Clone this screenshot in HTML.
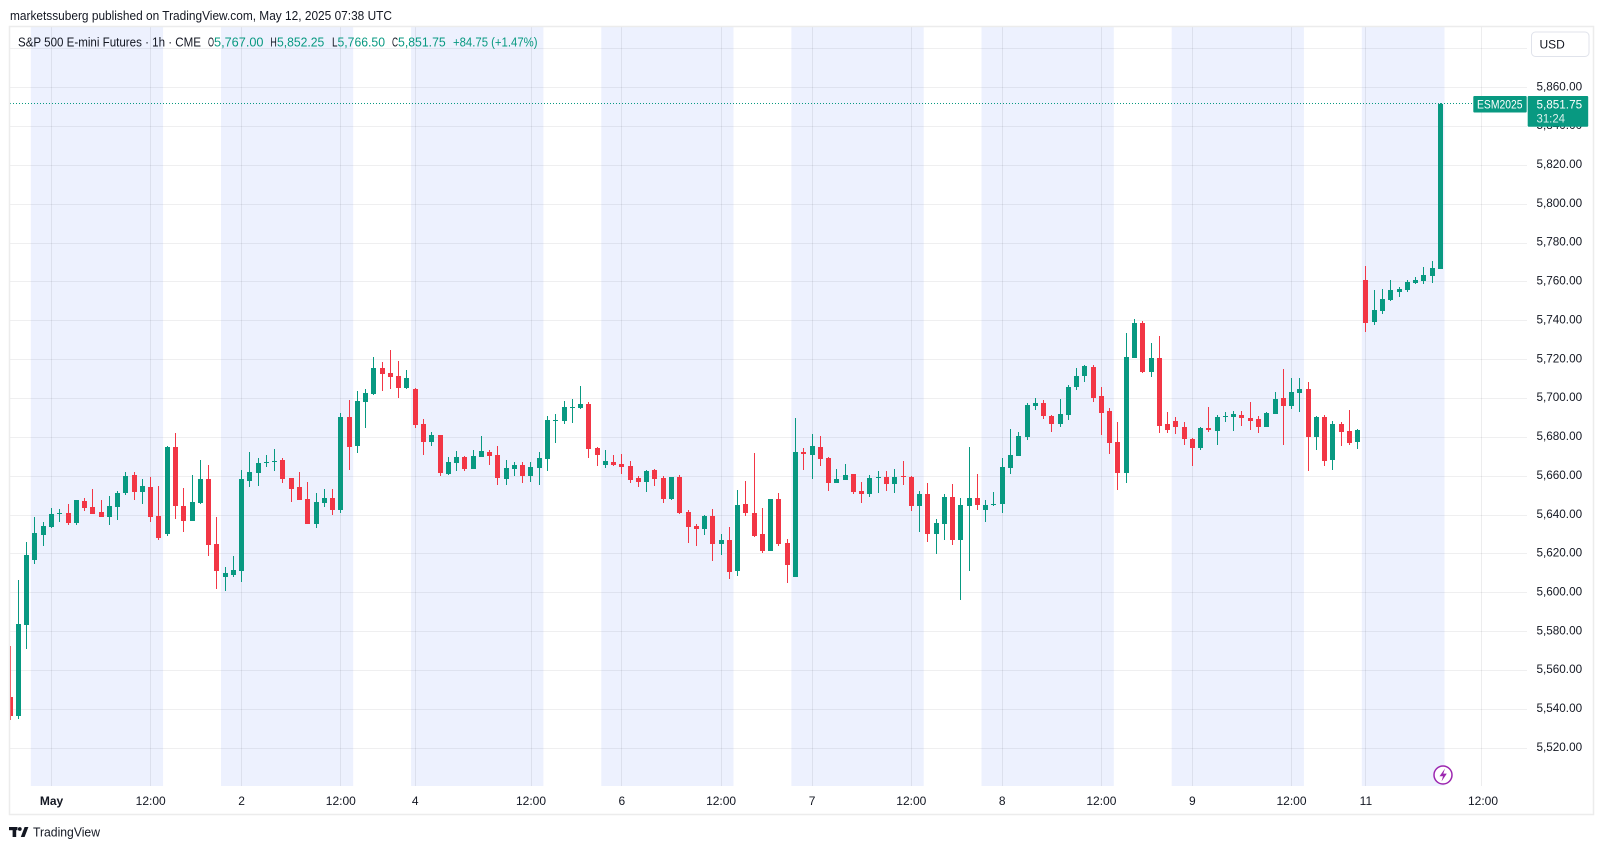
<!DOCTYPE html>
<html><head><meta charset="utf-8">
<style>
html,body{margin:0;padding:0;background:#fff;}
svg{display:block;}
text{font-family:"Liberation Sans",Arial,sans-serif;fill:#131722;}
</style></head>
<body>
<svg width="1603" height="849" viewBox="0 0 1603 849" xmlns="http://www.w3.org/2000/svg">
<rect width="1603" height="849" fill="#ffffff"/>
<defs><clipPath id="pane"><rect x="10" y="27" width="1517" height="759"/></clipPath></defs>

<!-- session bands -->
<g clip-path="url(#pane)" fill="#EDF1FE">
<rect x="30.8" y="27" width="132.3" height="759"/>
<rect x="221" y="27" width="132.2" height="759"/>
<rect x="411.1" y="27" width="132.3" height="759"/>
<rect x="601.3" y="27" width="132.2" height="759"/>
<rect x="791.4" y="27" width="132.3" height="759"/>
<rect x="981.5" y="27" width="132.3" height="759"/>
<rect x="1171.7" y="27" width="132.2" height="759"/>
<rect x="1361.8" y="27" width="82.7" height="759"/>
</g>

<!-- horizontal grid -->
<g stroke="rgba(42,46,57,0.075)" stroke-width="1">
<line x1="10" x2="1527" y1="48.5" y2="48.5"/>
<line x1="10" x2="1527" y1="87.5" y2="87.5"/>
<line x1="10" x2="1527" y1="126.5" y2="126.5"/>
<line x1="10" x2="1527" y1="165.5" y2="165.5"/>
<line x1="10" x2="1527" y1="204.5" y2="204.5"/>
<line x1="10" x2="1527" y1="243.5" y2="243.5"/>
<line x1="10" x2="1527" y1="281.5" y2="281.5"/>
<line x1="10" x2="1527" y1="320.5" y2="320.5"/>
<line x1="10" x2="1527" y1="359.5" y2="359.5"/>
<line x1="10" x2="1527" y1="398.5" y2="398.5"/>
<line x1="10" x2="1527" y1="437.5" y2="437.5"/>
<line x1="10" x2="1527" y1="476.5" y2="476.5"/>
<line x1="10" x2="1527" y1="515.5" y2="515.5"/>
<line x1="10" x2="1527" y1="553.5" y2="553.5"/>
<line x1="10" x2="1527" y1="592.5" y2="592.5"/>
<line x1="10" x2="1527" y1="631.5" y2="631.5"/>
<line x1="10" x2="1527" y1="670.5" y2="670.5"/>
<line x1="10" x2="1527" y1="709.5" y2="709.5"/>
<line x1="10" x2="1527" y1="748.5" y2="748.5"/>
</g>
<!-- vertical grid -->
<g stroke="rgba(42,46,57,0.085)" stroke-width="1">
<line y1="27" y2="786" x1="51.5" x2="51.5"/>
<line y1="27" y2="786" x1="150.5" x2="150.5"/>
<line y1="27" y2="786" x1="241.5" x2="241.5"/>
<line y1="27" y2="786" x1="340.5" x2="340.5"/>
<line y1="27" y2="786" x1="415.5" x2="415.5"/>
<line y1="27" y2="786" x1="531.5" x2="531.5"/>
<line y1="27" y2="786" x1="621.5" x2="621.5"/>
<line y1="27" y2="786" x1="721.5" x2="721.5"/>
<line y1="27" y2="786" x1="812.5" x2="812.5"/>
<line y1="27" y2="786" x1="911.5" x2="911.5"/>
<line y1="27" y2="786" x1="1002.5" x2="1002.5"/>
<line y1="27" y2="786" x1="1101.5" x2="1101.5"/>
<line y1="27" y2="786" x1="1192.5" x2="1192.5"/>
<line y1="27" y2="786" x1="1291.5" x2="1291.5"/>
<line y1="27" y2="786" x1="1365.5" x2="1365.5"/>
<line y1="27" y2="786" x1="1481.5" x2="1481.5"/>
</g>

<!-- current price dotted line -->
<line x1="10" x2="1527" y1="103.5" y2="103.5" stroke="#089981" stroke-width="1" stroke-dasharray="1 2"/>

<!-- candles -->
<g id="candles" clip-path="url(#pane)"></g>

<!-- frame -->
<rect x="9.5" y="26.5" width="1584" height="788" fill="none" stroke="#ECECEC" stroke-width="1.5"/>

<!-- header text -->
<text x="10" y="20" font-size="13" textLength="382" lengthAdjust="spacingAndGlyphs">marketssuberg published on TradingView.com, May 12, 2025 07:38 UTC</text>

<!-- legend -->
<g font-size="13">
<text x="18" y="46.5" textLength="183" lengthAdjust="spacingAndGlyphs">S&amp;P 500 E-mini Futures · 1h · CME</text>
<text x="208" y="46.5" textLength="6" lengthAdjust="spacingAndGlyphs">O</text>
<text x="214" y="46.5" textLength="49.5" lengthAdjust="spacingAndGlyphs" style="fill:#089981">5,767.00</text>
<text x="270.4" y="46.5" textLength="6.4" lengthAdjust="spacingAndGlyphs">H</text>
<text x="277" y="46.5" textLength="47.3" lengthAdjust="spacingAndGlyphs" style="fill:#089981">5,852.25</text>
<text x="332" y="46.5" textLength="5.5" lengthAdjust="spacingAndGlyphs">L</text>
<text x="337.5" y="46.5" textLength="47.5" lengthAdjust="spacingAndGlyphs" style="fill:#089981">5,766.50</text>
<text x="392" y="46.5" textLength="6" lengthAdjust="spacingAndGlyphs">C</text>
<text x="398" y="46.5" textLength="47.7" lengthAdjust="spacingAndGlyphs" style="fill:#089981">5,851.75</text>
<text x="453" y="46.5" textLength="84.5" lengthAdjust="spacingAndGlyphs" style="fill:#089981">+84.75 (+1.47%)</text>
</g>

<!-- price axis labels -->
<g font-size="12">
<text x="1536.5" y="90.3" textLength="45.6" lengthAdjust="spacingAndGlyphs">5,860.00</text>
<text x="1536.5" y="129.2" textLength="45.6" lengthAdjust="spacingAndGlyphs">5,840.00</text>
<text x="1536.5" y="168" textLength="45.6" lengthAdjust="spacingAndGlyphs">5,820.00</text>
<text x="1536.5" y="206.9" textLength="45.6" lengthAdjust="spacingAndGlyphs">5,800.00</text>
<text x="1536.5" y="245.7" textLength="45.6" lengthAdjust="spacingAndGlyphs">5,780.00</text>
<text x="1536.5" y="284.6" textLength="45.6" lengthAdjust="spacingAndGlyphs">5,760.00</text>
<text x="1536.5" y="323.5" textLength="45.6" lengthAdjust="spacingAndGlyphs">5,740.00</text>
<text x="1536.5" y="362.3" textLength="45.6" lengthAdjust="spacingAndGlyphs">5,720.00</text>
<text x="1536.5" y="401.2" textLength="45.6" lengthAdjust="spacingAndGlyphs">5,700.00</text>
<text x="1536.5" y="440" textLength="45.6" lengthAdjust="spacingAndGlyphs">5,680.00</text>
<text x="1536.5" y="478.9" textLength="45.6" lengthAdjust="spacingAndGlyphs">5,660.00</text>
<text x="1536.5" y="517.8" textLength="45.6" lengthAdjust="spacingAndGlyphs">5,640.00</text>
<text x="1536.5" y="556.6" textLength="45.6" lengthAdjust="spacingAndGlyphs">5,620.00</text>
<text x="1536.5" y="595.5" textLength="45.6" lengthAdjust="spacingAndGlyphs">5,600.00</text>
<text x="1536.5" y="634.3" textLength="45.6" lengthAdjust="spacingAndGlyphs">5,580.00</text>
<text x="1536.5" y="673.2" textLength="45.6" lengthAdjust="spacingAndGlyphs">5,560.00</text>
<text x="1536.5" y="712" textLength="45.6" lengthAdjust="spacingAndGlyphs">5,540.00</text>
<text x="1536.5" y="750.9" textLength="45.6" lengthAdjust="spacingAndGlyphs">5,520.00</text>
</g>

<!-- USD box -->
<rect x="1531.5" y="32" width="57.5" height="24.5" rx="4" fill="#fff" stroke="#E0E3EB" stroke-width="1"/>
<text x="1539.5" y="48.5" font-size="12">USD</text>

<!-- ESM2025 tag and price tag -->
<rect x="1473.3" y="96" width="53.4" height="16.5" rx="1" fill="#089981"/>
<text x="1477" y="108.3" font-size="12" textLength="45.5" lengthAdjust="spacingAndGlyphs" style="fill:#ffffff">ESM2025</text>
<rect x="1527.7" y="96" width="60.5" height="30.7" rx="1" fill="#089981"/>
<text x="1536.5" y="108.3" font-size="12" textLength="45.6" lengthAdjust="spacingAndGlyphs" style="fill:#ffffff">5,851.75</text>
<text x="1536.5" y="122.5" font-size="12" textLength="28.5" lengthAdjust="spacingAndGlyphs" style="fill:#ffffff;fill-opacity:0.85">31:24</text>

<!-- time axis labels -->
<g font-size="12" text-anchor="middle">
<text x="51.5" y="805" font-weight="bold">May</text>
<text x="150.7" y="805">12:00</text>
<text x="241.6" y="805">2</text>
<text x="340.8" y="805">12:00</text>
<text x="415.2" y="805">4</text>
<text x="531" y="805">12:00</text>
<text x="621.9" y="805">6</text>
<text x="721.1" y="805">12:00</text>
<text x="812.1" y="805">7</text>
<text x="911.3" y="805">12:00</text>
<text x="1002.2" y="805">8</text>
<text x="1101.4" y="805">12:00</text>
<text x="1192.3" y="805">9</text>
<text x="1291.5" y="805">12:00</text>
<text x="1365.9" y="805">11</text>
<text x="1483" y="805">12:00</text>
</g>

<!-- lightning icon -->
<circle cx="1443" cy="775" r="9" fill="#fff" stroke="#9C27B0" stroke-width="1.5"/>
<polygon points="1445,768.5 1439.5,776.2 1443,776.2 1441.5,781.5 1446.8,773.6 1443.3,773.6" fill="#9C27B0"/>

<!-- TradingView logo -->
<g fill="#131722">
<rect x="9" y="827" width="8.5" height="3.2"/>
<rect x="12.6" y="827" width="3.6" height="10"/>
<circle cx="19.8" cy="829" r="1.9"/>
<polygon points="20.8,837 24.6,827 28.4,827 24.6,837"/>
</g>
<text x="33" y="836.5" font-size="13" textLength="67" lengthAdjust="spacingAndGlyphs">TradingView</text>
</svg>

<script>
(function(){
var data=[
['r',696.7,716,646,720],
['g',624,716,580,718.7],
['g',555,625,542,648.7],
['g',533,560,517,564],
['g',526,535,522,546],
['g',514,527.3,508,528],
['g',513,514,509,522],
['r',513,523,504,525],
['g',500,523,500,525],
['r',501,508,498,511],
['r',507,514,489,514],
['r',512,517,500,517],
['g',506,517,496,525],
['g',493,507,491,520],
['g',476,493,472,495],
['r',475,492,472,500],
['g',486,492,479,504],
['r',487,517,477,522],
['r',516,538,486,540],
['g',447,534,446,536],
['r',447,506,433,519],
['r',506,521,488,532],
['g',502,521,475,521],
['g',479,503,460,504],
['r',479,545,465,556],
['r',544,571,517,589],
['g',573,577,567,591],
['g',570,575,556,577],
['g',479,571,470,582],
['g',472,481,452,487],
['g',463,473,458,486],
['g',462,463,455,467],
['g',461,462,449,471],
['r',460,479,458,483],
['r',478,489,478,502],
['r',487,500,472,500],
['r',499,524,482,524],
['g',502,524,493,528],
['g',498,503,489,507],
['r',498,510,489,515],
['g',417,510,413,513],
['r',417,447,400,470],
['g',401,446,391,453],
['g',393,402,389,428],
['g',368,394,357,395],
['r',368,374,362,391],
['r',373,377,350,389],
['r',376,388,361,398],
['g',378,388,370,389],
['r',389,425,388,428],
['r',424,442,419,455],
['g',435,442,432,446],
['r',435,473,435,476],
['g',462,474,457,475],
['g',457,463,451,471],
['r',457,469,456,471],
['g',456,469,450,469],
['g',451,457,436,457],
['r',452,456,450,465],
['r',455,478,446,485],
['g',468,479,460,485],
['g',465,469,462,476],
['r',465,476,462,483],
['g',467,476,462,482],
['g',458,468,452,485],
['g',420,459,416,471],
['g',420,421,414,443],
['g',407,421,401,424],
['g',407,408,399,423],
['g',404,408,386,409],
['r',404,449,402,458],
['r',448,455,447,466],
['g',461,465,450,468],
['r',462,465,455,466],
['r',464,467,454,474],
['r',466,480,461,483],
['r',478,482,476,487],
['g',471,482,470,492],
['r',470,479,469,486],
['r',478,499,476,503],
['g',477,499,477,500],
['r',477,513,475,514],
['r',512,527,510,543],
['r',526,529,524,546],
['g',516,529,515,535],
['r',516,544,509,561],
['g',540,544,534,555],
['r',540,572,527,579],
['g',505,571,490,576],
['r',504,513,481,516],
['r',513,536,453,537],
['r',534,551,508,553],
['g',499,551,499,551],
['r',499,544,493,546],
['r',543,565,539,583],
['g',452,577,418,577],
['r',452,454,448,470],
['g',446,455,434,479],
['r',447,459,436,466],
['r',458,483,457,491],
['g',479,483,469,483],
['g',475,480,464,480],
['r',474,492,474,494],
['r',491,494,482,503],
['g',478,494,475,497],
['g',477,478,471,493],
['r',477,484,471,491],
['g',477,484,469,493],
['r',476,477,461,485],
['r',477,506,476,511],
['g',494,506,491,532],
['r',494,534,483,542],
['g',523,534,519,554],
['g',497,524,494,540],
['r',497,540,484,545],
['g',505,540,498,600],
['g',498,506,447,571],
['r',498,505,474,510],
['g',505,510,500,522],
['g',504,505,492,506],
['g',467,504,458,513],
['g',455,468,429,474],
['g',436,456,432,456],
['g',405,437,403,440],
['g',403,406,398,410],
['r',403,416,400,419],
['r',416,424,415,432],
['g',414,424,399,427],
['g',387,415,385,420],
['g',376,387,368,390],
['g',366,376,365,382],
['r',367,398,365,402],
['r',396,413,387,435],
['r',411,443,408,454],
['r',442,473,422,490],
['g',357,473,333,483],
['g',323,358,319,358],
['r',323,372,321,373],
['g',358,372,343,377],
['r',358,426,336,433],
['r',424,430,412,433],
['r',421,427,417,434],
['r',427,439,422,445],
['r',439,448,438,466],
['g',428,448,427,450],
['r',428,430,407,432],
['g',417,431,415,445],
['g',416,417,412,422],
['g',414,417,411,431],
['r',415,418,411,426],
['r',418,421,402,430],
['r',419,427,416,433],
['g',413,427,412,427],
['g',399,414,392,414],
['r',398,406,369,445],
['g',392,406,378,409],
['g',389,393,378,412],
['r',389,437,382,471],
['g',417,437,416,450],
['r',417,461,415,466],
['g',424,460,421,470],
['r',424,432,422,446],
['r',431,443,410,445],
['g',430,442,429,449],
['r',280,323,266,332],
['g',310,322,290,325],
['g',299,311,289,314],
['g',290,300,280,301],
['g',289,292,287,297],
['g',282,290,280,292],
['g',280,283,277,284],
['g',275,281,267,284],
['g',268,276,261,283],
['g',104,269,103,269]
];
var ns="http://www.w3.org/2000/svg";
var g=document.getElementById('candles');
for(var i=0;i<data.length;i++){
  var d=data[i], s=i-5;
  var cx=51.5+s*8.267;
  var x=Math.round(cx-2.5);
  var col=d[0]==='g'?'#089981':'#F23645';
  var wt=Math.round(d[3]), wb=Math.round(d[4]);
  var bt=Math.round(d[1]), bb=Math.round(d[2]);
  if(wt>bt) wt=bt; if(wb<bb) wb=bb;
  var w=document.createElementNS(ns,'rect');
  w.setAttribute('x',x+2);w.setAttribute('y',wt);w.setAttribute('width',1);w.setAttribute('height',Math.max(1,wb-wt));w.setAttribute('fill',col);
  g.appendChild(w);
  var b=document.createElementNS(ns,'rect');
  b.setAttribute('x',x);b.setAttribute('y',bt);b.setAttribute('width',5);b.setAttribute('height',Math.max(1,bb-bt));b.setAttribute('fill',col);
  g.appendChild(b);
}
})();
</script>
</body></html>
